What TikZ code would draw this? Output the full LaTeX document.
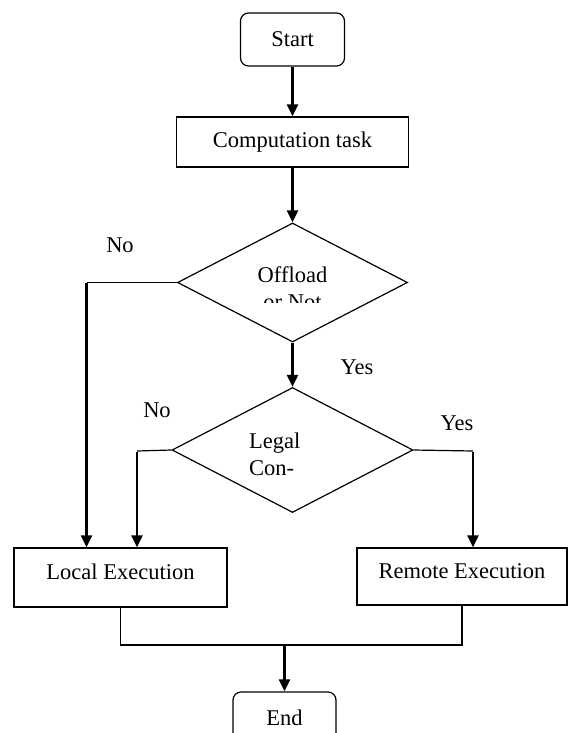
\documentclass[tikz,border=0pt]{standalone}
\usepackage{fontspec}
\setmainfont{Liberation Serif}
\usetikzlibrary{shapes.geometric, positioning, arrows.meta}

\tikzset{
  box/.style={draw, line width=1.2pt, inner sep=0pt},
  decision/.style={diamond, draw, line width=1.2pt, inner sep=0pt},
  link/.style={line width=1.2pt},
  arrow/.style={line width=2.3pt, -{Triangle[length=12pt, width=11pt]}}
}

\begin{document}
\begin{tikzpicture}[x=1pt, y=-1pt, font=\fontsize{22.5}{26}\selectfont]
\clip (0,0) rectangle (568,733);

% boxes
\node[box, rounded corners=8pt, minimum width=104pt, minimum height=53pt] (start) at (292.5, 39.5) {Start};
\node[box, minimum width=232pt, minimum height=50pt] (task) at (292.5, 142) {Computation task};
\node[decision, minimum width=230pt, minimum height=119pt] (offload) at (292.5, 282.5) {};
\node[decision, minimum width=241pt, minimum height=125pt] (legal) at (292.5, 450) {};
\node[box, minimum width=213pt, minimum height=59pt, text height=15pt, text depth=12pt] (local) at (120.5, 577.5) {Local Execution};
\node[box, minimum width=210pt, minimum height=57pt, text height=15pt, text depth=12pt] (remote) at (462, 576.5) {Remote Execution};
\node[box, rounded corners=8pt, minimum width=103pt, minimum height=60pt, text height=15pt, text depth=9pt] (end) at (284.5, 722) {End};

% clipped texts in the diamonds
\begin{scope}
  \clip (200, 250) rectangle (385, 302);
  \node[anchor=base] (offloadA) at (292.5, 282) {Offload};
  \node[anchor=base] (offloadB) at (292.5, 309) {or Not};
\end{scope}
\begin{scope}
  \clip (200, 420) rectangle (385, 475);
  \node[anchor=base west, inner sep=0pt] (legalA) at (249, 448) {Legal};
  \node[anchor=base west, inner sep=0pt] (legalB) at (249, 475) {Con-};
\end{scope}

% labels
\node (noA) at (120, 245) {No};
\node (yesA) at (357, 367) {Yes};
\node (noB) at (157, 410) {No};
\node (yesB) at (457, 423) {Yes};

% bends
\coordinate (bendA) at (86.5, 282.5);
\coordinate (bendB) at (137, 451);
\coordinate (bendC) at (473, 451);
\coordinate (merge) at (284.5, 645);

% connectors
\draw[arrow] (start) -- (task);
\draw[arrow] (task) -- (offload);
\draw[arrow] (offload) -- (legal);
\draw[link] (offload.west) -- (bendA);
\draw[arrow] ([yshift=-0.6pt]bendA) -- (bendA |- local.north);
\draw[link] (legal.west) -- (bendB);
\draw[arrow] ([yshift=-0.6pt]bendB) -- (bendB |- local.north);
\draw[link] (legal.east) -- (bendC);
\draw[arrow] ([yshift=-0.6pt]bendC) -- (bendC |- remote.north);
\draw[link] (local.south) |- (merge) -| (remote.south);
\draw[arrow] (merge) -- (end);
\end{tikzpicture}
\end{document}
